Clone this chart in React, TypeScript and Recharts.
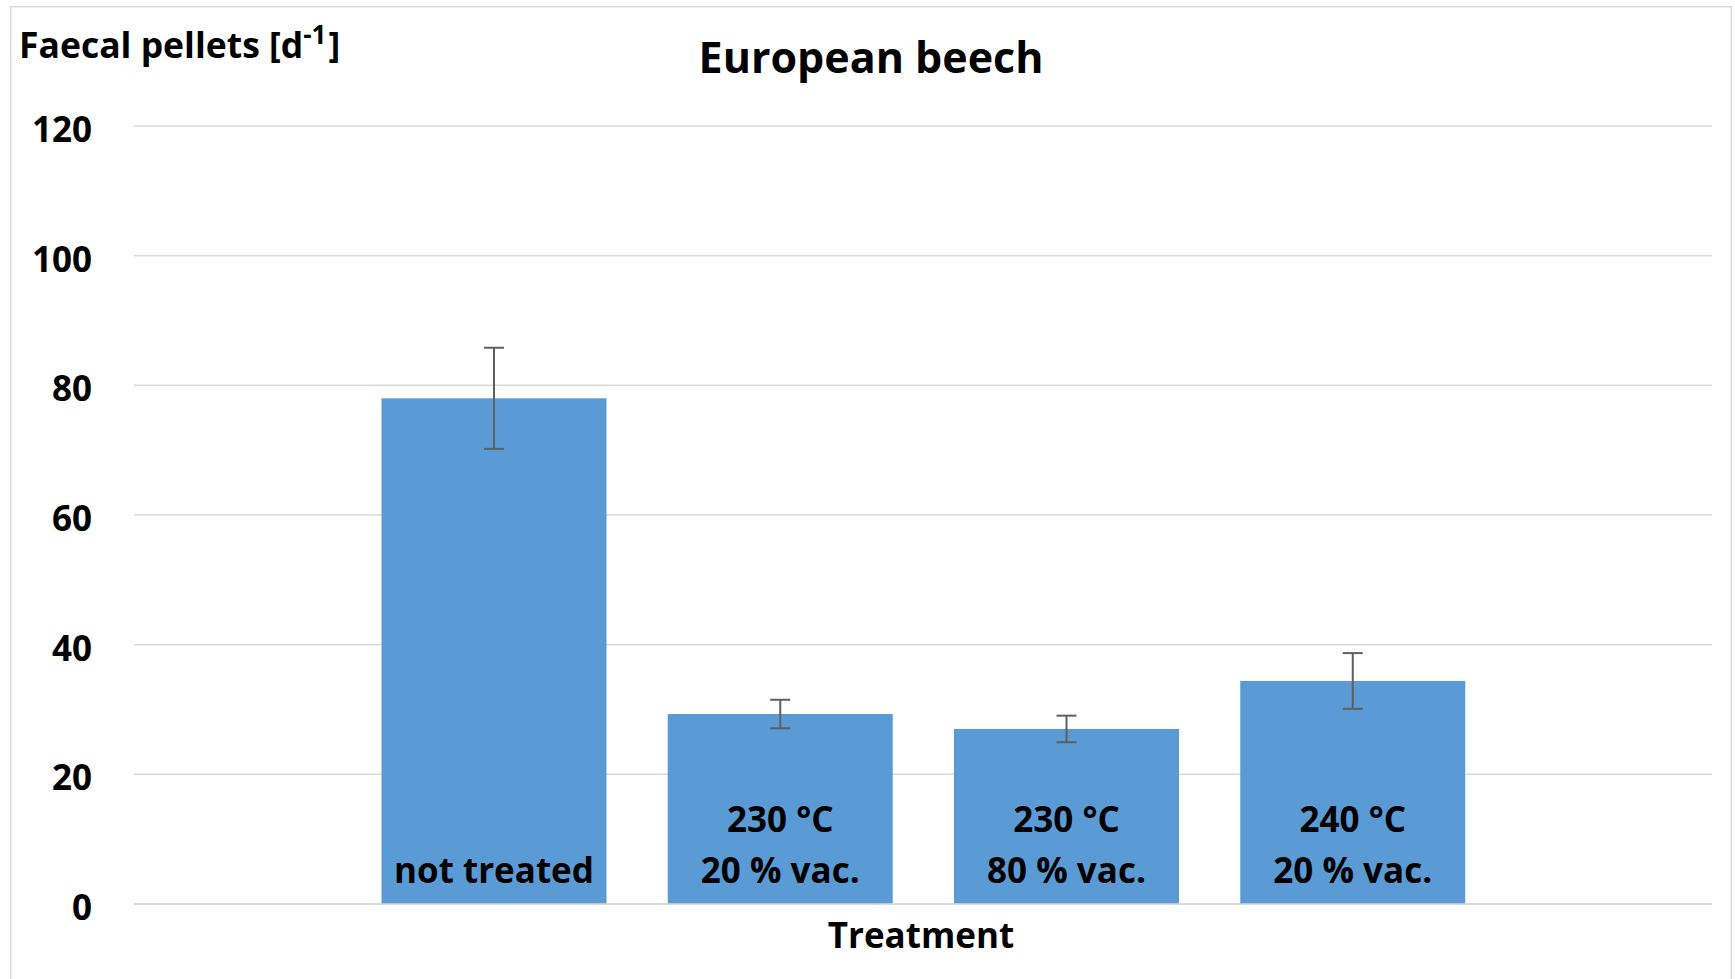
import React from 'react';
import { BarChart, Bar, XAxis, YAxis, CartesianGrid, ErrorBar, LabelList } from 'recharts';

const categories = ['not treated', '230 °C 20 % vac.', '230 °C 80 % vac.', '240 °C 20 % vac.'];
const labelLine1 = ['', '230 °C', '230 °C', '240 °C'];
const labelLine2 = ['not treated', '20 % vac.', '80 % vac.', '20 % vac.'];
const pellets = [78.0, 29.3, 27.0, 34.4];
const errors = [7.8, 2.2, 2.05, 4.3];
const yTicks = [0, 20, 40, 60, 80, 100, 120];

const data = categories.map((c, i) => ({
  name: c,
  value: pellets[i],
  err: errors[i],
  l1: labelLine1[i],
  l2: labelLine2[i],
}));

const FONT = "'Open Sans', Lato, sans-serif";
const W = 1735;
const H = 979;

const YTick = (props: any) => {
  const { x, y, payload } = props;
  return (
    <text x={x} y={y} dy={16} textAnchor="end" fontFamily={FONT} fontWeight={700} fontSize={35} fill="#000">
      {payload.value}
    </text>
  );
};

const makeLine = (offset: number) => (props: any) => {
  const { x, y, width, height, value } = props;
  if (!value) return null;
  const bottom = Number(y) + Number(height);
  return (
    <text
      x={Number(x) + Number(width) / 2}
      y={bottom - offset}
      textAnchor="middle"
      fontFamily={FONT}
      fontWeight={700}
      fontSize={35}
      fill="#000"
    >
      {value}
    </text>
  );
};

export default function App() {
  return (
    <div style={{ position: 'absolute', left: 0, top: 0, width: W, height: H, background: '#fff', overflow: 'hidden' }}>
      <BarChart
        width={W}
        height={H}
        data={data}
        margin={{ top: 126, right: 23, bottom: 45, left: 74 }}
      >
        <CartesianGrid vertical={false} stroke="#D9D9D9" strokeWidth={1.5} />
        <XAxis
          dataKey="name"
          tick={false}
          tickLine={false}
          axisLine={{ stroke: '#D9D9D9', strokeWidth: 1.5 }}
          padding={{ left: 216.5, right: 216.5 }}
          height={30}
        />
        <YAxis
          domain={[0, 120]}
          ticks={yTicks}
          width={60}
          axisLine={false}
          tickLine={false}
          tickSize={0}
          tickMargin={42}
          tick={<YTick />}
          interval={0}
        />
        <Bar dataKey="value" fill="#5B9BD5" barSize={225} isAnimationActive={false}>
          <ErrorBar dataKey="err" width={10} stroke="#5F5F5F" strokeWidth={2} direction="y" isAnimationActive={false} />
          <LabelList dataKey="l1" content={makeLine(72)} />
          <LabelList dataKey="l2" content={makeLine(21)} />
        </Bar>
      </BarChart>
      <svg width={W} height={H} style={{ position: 'absolute', left: 0, top: 0, pointerEvents: 'none' }}>
        <rect x={10.75} y={6.75} width={1720.5} height={1000} fill="none" stroke="#D9D9D9" strokeWidth={1.5} />
        <text x={871} y={73} textAnchor="middle" fontFamily={FONT} fontWeight={700} fontSize={43} fill="#000">
          European beech
        </text>
        <text x={19} y={58} fontFamily={FONT} fontWeight={700} fontSize={35.5} fill="#000">
          Faecal pellets [d
          <tspan fontSize={26} dy={-14}>-1</tspan>
          <tspan dx={2} dy={14}>]</tspan>
        </text>
        <text x={921} y={948} textAnchor="middle" fontFamily={FONT} fontWeight={700} fontSize={35} fill="#000">
          Treatment
        </text>
      </svg>
    </div>
  );
}
